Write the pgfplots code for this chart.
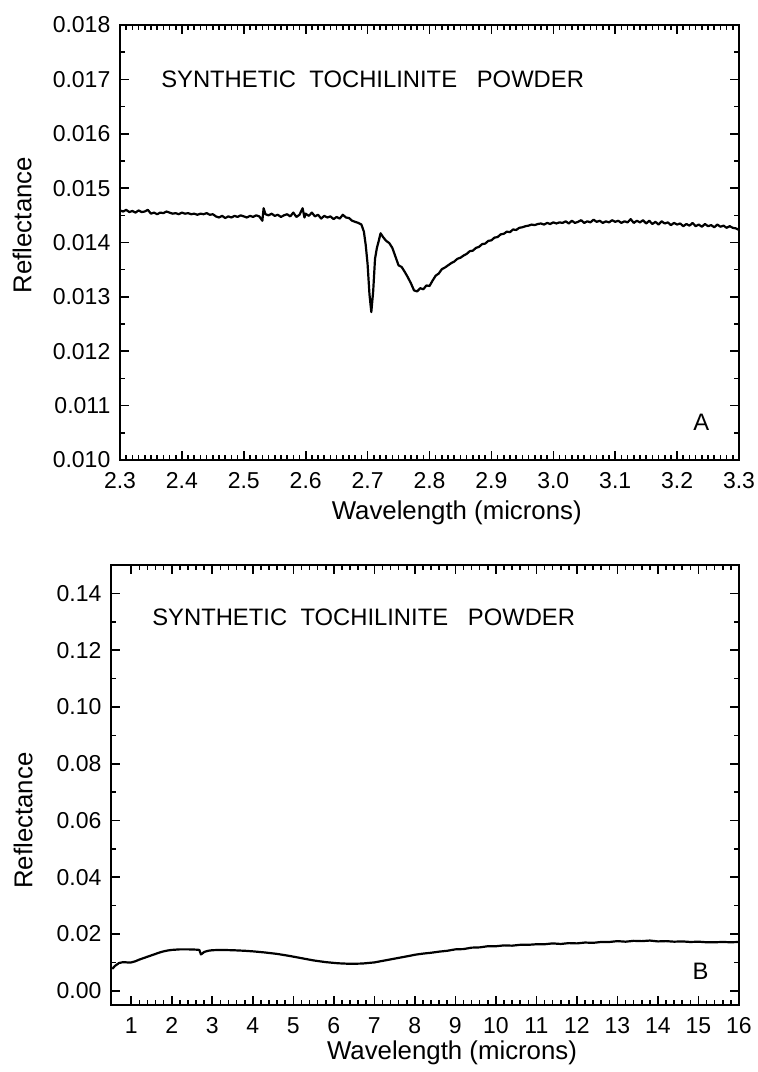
\documentclass[border=0pt]{standalone}
\usepackage{fontspec}
\setmainfont{Liberation Sans}
\usepackage{pgfplots}
\usepackage{pgfplotstable}
\pgfplotsset{compat=1.18}

\pgfplotstableread{
x y
2.300 0.01459
2.305 0.01457
2.310 0.01460
2.315 0.01456
2.320 0.01458
2.325 0.01455
2.330 0.01459
2.335 0.01456
2.340 0.01457
2.345 0.01460
2.350 0.01453
2.355 0.01455
2.360 0.01452
2.365 0.01455
2.370 0.01454
2.375 0.01457
2.380 0.01455
2.385 0.01453
2.390 0.01454
2.395 0.01452
2.400 0.01455
2.405 0.01453
2.410 0.01454
2.415 0.01452
2.420 0.01453
2.425 0.01451
2.430 0.01453
2.435 0.01452
2.440 0.01454
2.445 0.01451
2.450 0.01452
2.455 0.01448
2.460 0.01446
2.465 0.01449
2.470 0.01445
2.475 0.01448
2.480 0.01446
2.485 0.01449
2.490 0.01447
2.495 0.01450
2.500 0.01448
2.505 0.01446
2.510 0.01449
2.515 0.01447
2.520 0.01450
2.525 0.01448
2.530 0.01440
2.532 0.01463
2.535 0.01452
2.540 0.01450
2.545 0.01453
2.550 0.01449
2.555 0.01451
2.560 0.01447
2.565 0.01450
2.570 0.01452
2.575 0.01448
2.580 0.01455
2.585 0.01447
2.590 0.01451
2.595 0.01463
2.598 0.01446
2.600 0.01453
2.605 0.01449
2.610 0.01455
2.615 0.01448
2.620 0.01451
2.625 0.01444
2.630 0.01449
2.635 0.01446
2.640 0.01448
2.645 0.01443
2.650 0.01447
2.655 0.01444
2.660 0.01451
2.665 0.01446
2.670 0.01445
2.675 0.01440
2.680 0.01438
2.685 0.01436
2.690 0.01433
2.694 0.01420
2.697 0.01395
2.700 0.01360
2.703 0.01305
2.706 0.01272
2.709 0.01310
2.712 0.01370
2.715 0.01390
2.718 0.01403
2.721 0.01417
2.725 0.01410
2.730 0.01403
2.735 0.01399
2.740 0.01390
2.745 0.01374
2.750 0.01358
2.755 0.01355
2.760 0.01346
2.765 0.01336
2.770 0.01325
2.775 0.01312
2.780 0.01310
2.785 0.01316
2.790 0.01314
2.795 0.01321
2.800 0.01320
2.805 0.01330
2.810 0.01339
2.815 0.01343
2.820 0.01351
2.825 0.01354
2.830 0.01358
2.835 0.01362
2.840 0.01365
2.845 0.01370
2.850 0.01372
2.855 0.01376
2.860 0.01379
2.865 0.01384
2.870 0.01385
2.875 0.01390
2.880 0.01392
2.885 0.01397
2.890 0.01398
2.895 0.01403
2.900 0.01404
2.905 0.01409
2.910 0.01410
2.915 0.01415
2.920 0.01416
2.925 0.01420
2.930 0.01419
2.935 0.01424
2.940 0.01423
2.945 0.01427
2.950 0.01428
2.955 0.01430
2.960 0.01431
2.965 0.01433
2.970 0.01432
2.975 0.01434
2.980 0.01435
2.985 0.01433
2.990 0.01436
2.995 0.01434
3.000 0.01437
3.005 0.01435
3.010 0.01437
3.015 0.01436
3.020 0.01439
3.025 0.01435
3.030 0.01440
3.035 0.01436
3.040 0.01438
3.045 0.01441
3.050 0.01436
3.055 0.01439
3.060 0.01437
3.065 0.01442
3.070 0.01438
3.075 0.01440
3.080 0.01436
3.085 0.01439
3.090 0.01437
3.095 0.01441
3.100 0.01438
3.105 0.01440
3.110 0.01436
3.115 0.01439
3.120 0.01437
3.125 0.01443
3.130 0.01436
3.135 0.01440
3.140 0.01437
3.145 0.01441
3.150 0.01435
3.155 0.01440
3.160 0.01434
3.165 0.01438
3.170 0.01433
3.175 0.01439
3.180 0.01435
3.185 0.01437
3.190 0.01432
3.195 0.01436
3.200 0.01433
3.205 0.01435
3.210 0.01430
3.215 0.01434
3.220 0.01431
3.225 0.01436
3.230 0.01430
3.235 0.01433
3.240 0.01429
3.245 0.01434
3.250 0.01430
3.255 0.01432
3.260 0.01428
3.265 0.01433
3.270 0.01429
3.275 0.01431
3.280 0.01427
3.285 0.01430
3.290 0.01427
3.295 0.01426
3.300 0.01423
}\toptable

\pgfplotstableread{
x y
0.53 0.0077
0.60 0.0088
0.70 0.0098
0.80 0.0101
0.90 0.0100
1.00 0.0100
1.10 0.0104
1.20 0.0110
1.30 0.0115
1.40 0.0120
1.50 0.0125
1.60 0.0130
1.70 0.0135
1.80 0.0139
1.90 0.0142
2.00 0.0144
2.20 0.0146
2.40 0.0146
2.60 0.0145
2.68 0.0144
2.70 0.0136
2.72 0.0128
2.76 0.0132
2.80 0.0137
2.90 0.0141
3.00 0.0143
3.20 0.0144
3.50 0.0143
3.80 0.0141
4.00 0.0139
4.30 0.0135
4.60 0.0130
4.90 0.0123
5.20 0.0115
5.50 0.0107
5.80 0.0101
6.10 0.0097
6.40 0.0095
6.70 0.0096
7.00 0.0100
7.30 0.0108
7.60 0.0116
7.90 0.0124
8.0 0.0127
8.2 0.0131
8.4 0.0134
8.6 0.0138
8.8 0.0141
9.0 0.0146
9.2 0.0147
9.4 0.0152
9.6 0.0153
9.8 0.0157
10.0 0.0157
10.2 0.0160
10.4 0.0159
10.6 0.0162
10.8 0.0162
11.0 0.0164
11.2 0.0164
11.4 0.0167
11.6 0.0165
11.8 0.0168
12.0 0.0167
12.2 0.0170
12.4 0.0169
12.6 0.0172
12.8 0.0172
13.0 0.0175
13.2 0.0173
13.4 0.0176
13.6 0.0175
13.8 0.0177
14.0 0.0174
14.2 0.0175
14.4 0.0173
14.6 0.0174
14.8 0.0172
15.0 0.0173
15.2 0.0171
15.4 0.0171
15.6 0.0172
15.8 0.0171
16.0 0.0172
}\bottable

\pgfplotsset{
  myax/.style={
    scale only axis,
    axis line style={line width=1pt, black},
    tick style={line width=0.8pt, black},
    major tick length=4.5pt,
    minor tick length=2.5pt,
    tick align=inside,
    xtick pos=both, ytick pos=both,
    ticklabel style={font=\fontsize{11.5}{13}\selectfont},
    xticklabel style={yshift=-2.7pt},
    yticklabel style={xshift=-1.3pt},
    /pgf/number format/assume math mode=true,
    label style={font=\fontsize{12.9}{15}\selectfont},
    scaled ticks=false,
  },
}
\tikzset{annot/.style={font=\fontsize{11.9}{14}\selectfont, inner sep=0pt}}

\begin{document}
\begin{tikzpicture}[x=1pt,y=1pt]
\useasboundingbox (0,0) rectangle (378.5,536);

\begin{axis}[myax,
  at={(60pt,306pt)}, anchor=south west,
  width=309.5pt, height=217.5pt,
  xmin=2.3, xmax=3.3, ymin=0.010, ymax=0.018,
  xtick distance=0.1, minor x tick num=9,
  ytick distance=0.001, minor y tick num=1,
  xticklabel style={/pgf/number format/.cd, fixed, fixed zerofill, precision=1},
  yticklabel style={/pgf/number format/.cd, fixed, fixed zerofill, precision=3},
  xlabel={Wavelength (microns)},
  ylabel={Reflectance},
  xlabel style={at={(axis description cs:0.544,-0.1218)}, anchor=center},
  ylabel style={at={(axis description cs:-0.158,0.54)}, anchor=center},
]
\addplot[black, line width=1.1pt, line join=round, no markers] table[x=x, y=y] {\toptable};
\node[annot, anchor=west] at (axis cs:2.366,0.0170) {SYNTHETIC\hspace{0.56em}TOCHILINITE\hspace{0.83em}POWDER};
\node[annot] at (axis cs:3.239,0.0107) {A};
\end{axis}

\begin{axis}[myax,
  at={(55.5pt,33.5pt)}, anchor=south west,
  width=314pt, height=220pt,
  xmin=0.5, xmax=16, ymin=-0.005, ymax=0.15,
  xtick={1,2,...,16}, minor x tick num=4,
  ytick distance=0.02, minor y tick num=1,
  xticklabel style={/pgf/number format/.cd, fixed, precision=0},
  yticklabel style={/pgf/number format/.cd, fixed, fixed zerofill, precision=2},
  xlabel={Wavelength (microns)},
  ylabel={Reflectance},
  xlabel style={at={(axis description cs:0.543,-0.109)}, anchor=center},
  ylabel style={at={(axis description cs:-0.140,0.419)}, anchor=center},
]
\addplot[black, line width=1.1pt, line join=round, no markers] table[x=x, y=y] {\bottable};
\node[annot, anchor=west] at (axis cs:1.51,0.1314) {SYNTHETIC\hspace{0.56em}TOCHILINITE\hspace{0.83em}POWDER};
\node[annot] at (axis cs:15.05,0.0070) {B};
\end{axis}
\end{tikzpicture}
\end{document}
